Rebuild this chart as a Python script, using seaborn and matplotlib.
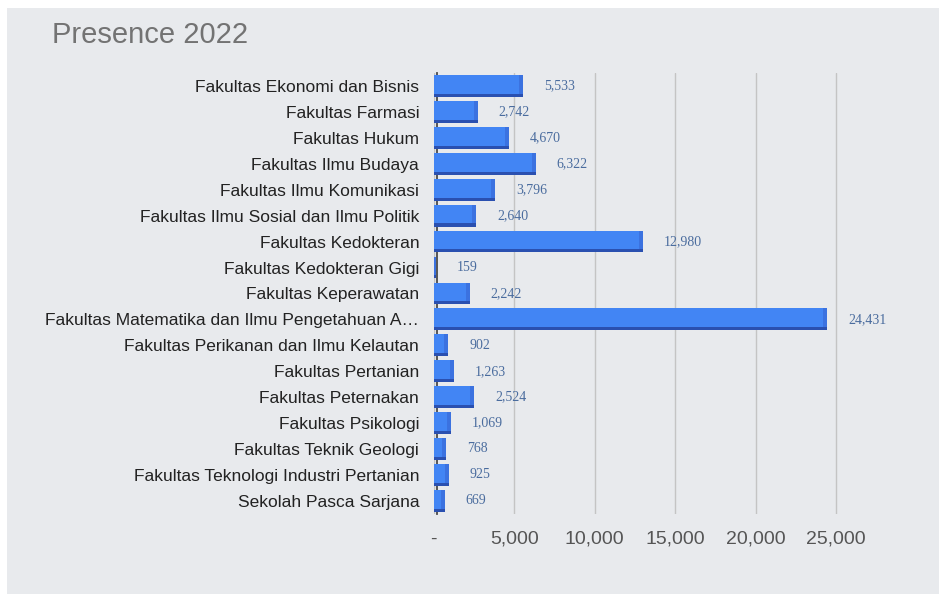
import matplotlib
matplotlib.use("Agg")
import matplotlib.pyplot as plt
from matplotlib.patches import Rectangle
import pandas as pd
import seaborn as sns

faculties = [
    "Fakultas Ekonomi dan Bisnis",
    "Fakultas Farmasi",
    "Fakultas Hukum",
    "Fakultas Ilmu Budaya",
    "Fakultas Ilmu Komunikasi",
    "Fakultas Ilmu Sosial dan Ilmu Politik",
    "Fakultas Kedokteran",
    "Fakultas Kedokteran Gigi",
    "Fakultas Keperawatan",
    "Fakultas Matematika dan Ilmu Pengetahuan A…",
    "Fakultas Perikanan dan Ilmu Kelautan",
    "Fakultas Pertanian",
    "Fakultas Peternakan",
    "Fakultas Psikologi",
    "Fakultas Teknik Geologi",
    "Fakultas Teknologi Industri Pertanian",
    "Sekolah Pasca Sarjana",
]
presence = [5533, 2742, 4670, 6322, 3796, 2640, 12980, 159, 2242, 24431,
            902, 1263, 2524, 1069, 768, 925, 669]
x_ticks = [0, 5000, 10000, 15000, 20000, 25000]
x_tick_labels = ["-", "5,000", "10,000", "15,000", "20,000", "25,000"]

df = pd.DataFrame({"faculty": faculties, "presence": presence})

sns.set_theme(style="white")
plt.rcParams["font.family"] = ["Liberation Sans", "DejaVu Sans"]

panel = "#e8eaed"
bar_color = "#4285f4"
shade = "#2a50b0"

fig = plt.figure(figsize=(9.39, 5.94), dpi=100)
fig.patch.set_facecolor("white")
fig.patches.append(Rectangle((7 / 939, 0), 1, 1 - 8 / 594, transform=fig.transFigure,
                             facecolor=panel, edgecolor="none", zorder=-10))

ax = fig.add_axes([0.462, 0.135, 0.480, 0.742])
ax.set_facecolor(panel)
sns.barplot(data=df, x="presence", y="faculty", color=bar_color, width=0.84,
            saturation=1, edgecolor="none", ax=ax, zorder=3)

ax.set_xlim(0, 28000)
# fake 3D look: darker strip along the bottom and right end of each bar
px = 28000 / (0.480 * 939)
for p in ax.patches[:]:
    x0, y0, w, h = p.get_x(), p.get_y(), p.get_width(), p.get_height()
    ax.add_patch(Rectangle((x0, y0 + h * 0.86), w, h * 0.14, facecolor=shade,
                           edgecolor="none", zorder=4))
    ax.add_patch(Rectangle((x0 + w - 4 * px, y0), 4 * px, h * 0.86, facecolor="#3b72e0",
                           edgecolor="none", zorder=4))

for i, v in enumerate(presence):
    ax.annotate(f"{v:,}", xy=(v, i), xytext=(15, 0), textcoords="offset points",
                va="center", ha="left", fontsize=10, color="#4a6c9e",
                family=["Liberation Serif", "DejaVu Serif"])

ax.set_xticks(x_ticks)
ax.set_xticklabels(x_tick_labels, fontsize=14, color="#555555")
ax.tick_params(axis="y", labelsize=12.5, labelcolor="#222222", length=0, pad=12.5)
ax.tick_params(axis="x", length=0, pad=12)
ax.xaxis.grid(True, color="#c4c4c4", linewidth=1, zorder=0)
ax.set_axisbelow(True)
ax.set_xlabel("")
ax.set_ylabel("")
for s in ["top", "right", "bottom"]:
    ax.spines[s].set_visible(False)
ax.spines["left"].set_color("#4a4a4a")
ax.spines["left"].set_linewidth(1.3)
ax.spines["left"].set_position(("outward", -2))
ax.spines["left"].set_zorder(2)

fig.text(52 / 939, 1 - 35 / 594, "Presence 2022", fontsize=21, color="#737373",
         va="center", ha="left")

fig.savefig("out.png", dpi=100, facecolor=fig.get_facecolor())
